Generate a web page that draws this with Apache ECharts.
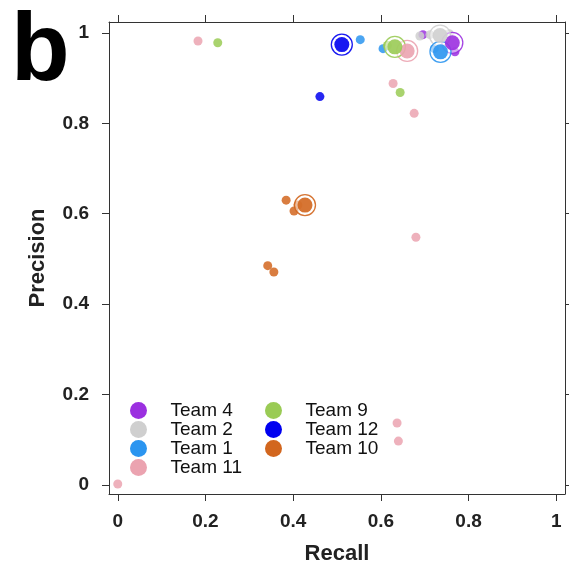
<!DOCTYPE html>
<html>
<head>
<meta charset="utf-8">
<script src="https://cdn.jsdelivr.net/npm/echarts@6/dist/echarts.min.js"></script>
<style>html,body{margin:0;padding:0;background:#fff}#c{width:569px;height:570px}</style>
</head>
<body>
<div id="c"></div>
<script>
// ---- data (Recall, Precision) ----
const teamNames = ['Team 4', 'Team 2', 'Team 1', 'Team 11', 'Team 9', 'Team 12', 'Team 10'];
const teamColors = ['#9b30e0', '#cfcfcf', '#2b95f0', '#eba3b0', '#9acb55', '#0000f0', '#d2661e'];

const team4Small = [[0.696, 0.996], [0.769, 0.958]];
const team4Big = [[0.763, 0.978]];
const team2Small = [[0.689, 0.993], [0.712, 0.996], [0.756, 0.998]];
const team2Big = [[0.735, 0.994]];
const team1Small = [[0.553, 0.985], [0.605, 0.965], [0.722, 0.965]];
const team1Big = [[0.736, 0.958]];
const team11Small = [[0.183, 0.982], [0.628, 0.888], [0.676, 0.822], [0.680, 0.548], [0.637, 0.137], [0.640, 0.097], [0.0, 0.002]];
const team11Big = [[0.660, 0.960]];
const team9Small = [[0.228, 0.978], [0.615, 0.972], [0.644, 0.868]];
const team9Big = [[0.632, 0.969]];
const team12Small = [[0.461, 0.859]];
const team12Big = [[0.511, 0.974]];
const team10Small = [[0.384, 0.630], [0.402, 0.606], [0.411, 0.619], [0.342, 0.485], [0.356, 0.471]];
const team10Big = [[0.427, 0.619]];

const xTickValues = [0, 0.2, 0.4, 0.6, 0.8, 1];
const xTickLabels = ['0', '0.2', '0.4', '0.6', '0.8', '1'];
const yTickValues = [0, 0.2, 0.4, 0.6, 0.8, 1];
const yTickLabels = ['0', '0.2', '0.4', '0.6', '0.8', '1'];

const smallSets = [team4Small, team2Small, team1Small, team11Small, team9Small, team12Small, team10Small];
const bigSets = [team4Big, team2Big, team1Big, team11Big, team9Big, team12Big, team10Big];

// ---- chart ----
const chart = echarts.init(document.getElementById('c'), null, {renderer: 'canvas'});
const AX = '#333';
const FONT = 'Liberation Sans, Arial, sans-serif';
function lab(vals, labels) { return v => { const i = vals.findIndex(t => Math.abs(t - v) < 1e-9); return i >= 0 ? labels[i] : ''; }; }

const series = [];
teamNames.forEach((name, i) => {
  series.push({
    name, type: 'scatter', data: smallSets[i], symbol: 'circle', symbolSize: 9,
    itemStyle: {color: teamColors[i], opacity: 0.85}, z: 2
  });
  series.push({
    name, type: 'scatter', data: bigSets[i], symbol: 'circle', symbolSize: 21,
    itemStyle: {color: 'rgba(255,255,255,0.55)', borderColor: teamColors[i], borderWidth: 1.3, opacity: 0.9}, z: 3
  });
  series.push({
    name, type: 'scatter', data: bigSets[i], symbol: 'circle', symbolSize: 15,
    itemStyle: {color: teamColors[i], opacity: 0.9}, z: 4
  });
});

const legendItem = (name) => ({name, icon: 'circle', itemStyle: {color: teamColors[teamNames.indexOf(name)], borderWidth: 0, opacity: 1}});
const legendCommon = {
  orient: 'vertical', itemWidth: 54, itemHeight: 17, itemGap: 0, selectedMode: false,
  textStyle: {fontFamily: FONT, fontSize: 19, color: '#111', lineHeight: 18, padding: [0, 0, 0, 0]}
};

chart.setOption({
  animation: false,
  backgroundColor: '#fff',
  grid: {left: 109, right: 4, top: 22, bottom: 75, containLabel: false},
  xAxis: [{
    type: 'value', min: -0.02, max: 1.02, position: 'bottom',
    name: 'Recall', nameLocation: 'middle', nameGap: 49,
    nameTextStyle: {fontFamily: FONT, fontWeight: 'bold', fontSize: 22, color: '#222'},
    axisLine: {show: true, onZero: false, lineStyle: {color: AX, width: 1}},
    axisTick: {show: true, inside: false, length: 7, customValues: xTickValues, lineStyle: {color: AX}},
    axisLabel: {customValues: xTickValues, formatter: lab(xTickValues, xTickLabels), margin: 18,
      fontFamily: FONT, fontWeight: 'bold', fontSize: 19, color: '#222'},
    splitLine: {show: false}
  }, {
    type: 'value', min: -0.02, max: 1.02, position: 'top',
    axisLine: {show: true, onZero: false, lineStyle: {color: AX, width: 1}},
    axisTick: {show: true, inside: false, length: 7, customValues: xTickValues, lineStyle: {color: AX}},
    axisLabel: {show: false}, splitLine: {show: false}
  }],
  yAxis: [{
    type: 'value', min: -0.02, max: 1.024, position: 'left',
    name: 'Precision', nameLocation: 'middle', nameGap: 60, nameRotate: 90,
    nameTextStyle: {fontFamily: FONT, fontWeight: 'bold', fontSize: 22, color: '#222'},
    axisLine: {show: true, onZero: false, lineStyle: {color: AX, width: 1}},
    axisTick: {show: true, inside: false, length: 7, customValues: yTickValues, lineStyle: {color: AX}},
    axisLabel: {customValues: yTickValues, formatter: lab(yTickValues, yTickLabels), margin: 20,
      fontFamily: FONT, fontWeight: 'bold', fontSize: 19, color: '#222'},
    splitLine: {show: false}
  }, {
    type: 'value', min: -0.02, max: 1.024, position: 'right',
    axisLine: {show: true, onZero: false, lineStyle: {color: AX, width: 1}},
    axisTick: {show: true, inside: false, length: 7, customValues: yTickValues, lineStyle: {color: AX}},
    axisLabel: {show: false}, splitLine: {show: false}
  }],
  legend: [
    Object.assign({left: 125, top: 396, data: ['Team 4', 'Team 2', 'Team 1', 'Team 11'].map(legendItem)}, legendCommon),
    Object.assign({left: 260, top: 396, data: ['Team 9', 'Team 12', 'Team 10'].map(legendItem)}, legendCommon)
  ],
  graphic: [{
    type: 'text', left: 11, top: 6,
    style: {text: 'b', fontFamily: FONT, fontWeight: 'bold', fontSize: 96, fill: '#000'}
  }],
  series
});
</script>
</body>
</html>
